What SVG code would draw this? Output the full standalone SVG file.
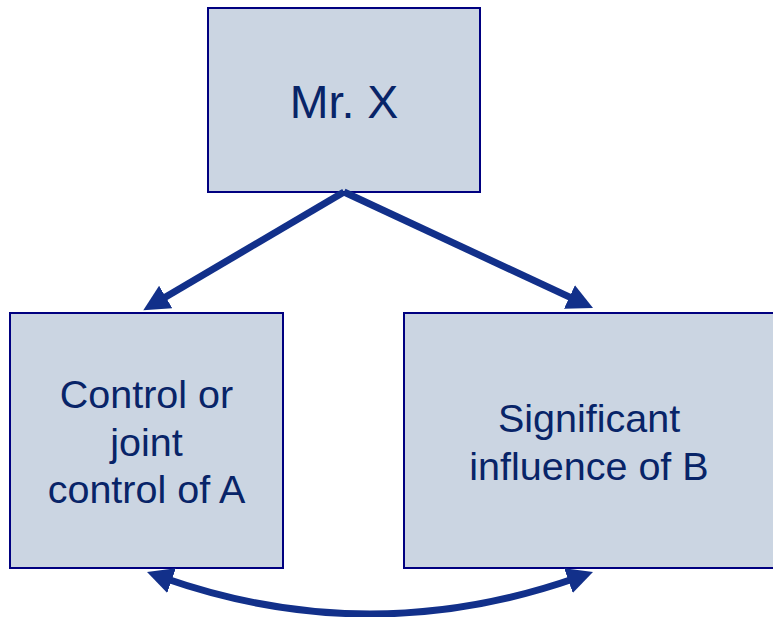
<svg xmlns="http://www.w3.org/2000/svg" width="773" height="617" viewBox="0 0 773 617">
  <style>
    .box { fill: #CBD5E2; stroke: #000080; stroke-width: 2; }
    .label { font-family: "Liberation Sans", Arial, sans-serif; fill: #082468; text-anchor: middle; }
    .conn { fill: none; stroke: #12308A; stroke-width: 7; }
  </style>
  <defs>
    <marker id="head" markerUnits="userSpaceOnUse" markerWidth="26" markerHeight="26" refX="8" refY="13" orient="auto-start-reverse">
      <path d="M0,0 L26,13 L0,26 Z" fill="#12308A"/>
    </marker>
  </defs>

  <rect width="773" height="617" fill="#FFFFFF"/>

  <g id="node-mrx">
    <rect class="box" x="208" y="8" width="272" height="184"/>
    <text class="label" x="344" y="118" font-size="46.5">Mr. X</text>
  </g>

  <g id="node-a">
    <rect class="box" x="10" y="313" width="273" height="255"/>
    <text class="label" x="146.5" y="408" font-size="39.5">Control or</text>
    <text class="label" x="146.5" y="456" font-size="39.5">joint</text>
    <text class="label" x="146.5" y="503" font-size="39.5">control of A</text>
  </g>

  <g id="node-b">
    <rect class="box" x="404" y="313" width="372" height="255"/>
    <text class="label" x="589" y="432" font-size="39.5">Significant</text>
    <text class="label" x="589" y="480" font-size="39.5">influence of B</text>
  </g>

  <g id="connectors">
    <path class="conn" d="M344,192 L158.8,301" marker-end="url(#head)"/>
    <path class="conn" d="M344,192 L576.7,300.4" marker-end="url(#head)"/>
    <path class="conn" d="M164,578 Q370,650 576,578" marker-start="url(#head)" marker-end="url(#head)"/>
  </g>
</svg>
